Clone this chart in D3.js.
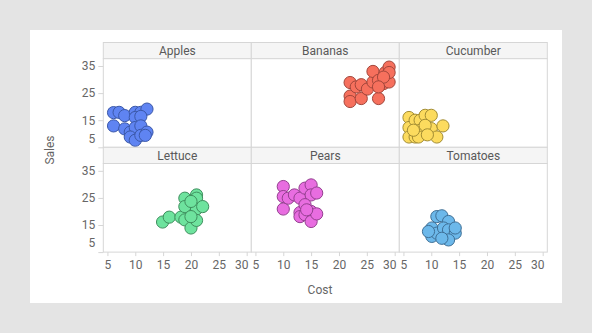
<!DOCTYPE html>
<html>
<head>
<meta charset="utf-8">
<script src="https://cdn.jsdelivr.net/npm/d3@7"></script>
<style>
  html, body { margin: 0; padding: 0; background: #e4e4e4; }
  svg { display: block; font-family: Roboto, "Noto Sans", sans-serif; }
</style>
</head>
<body>
<svg id="chart" width="592" height="333"></svg>
<script>
// Product panels, laid out in two rows of three
const categories = ["Apples", "Bananas", "Cucumber", "Lettuce", "Pears", "Tomatoes"];

// [cost, sales] pairs for each product
const apples = [[6.1,17.8],[7.1,17.9],[8.1,16.7],[10.0,17.9],[11.0,17.9],[12.1,19.1],[10.0,16.0],[11.0,16.4],
  [6.1,12.9],[8.1,11.8],[9.1,10.6],[10.0,12.3],[11.0,12.9],[9.1,8.8],[10.0,7.6],[11.0,9.4],[12.1,10.6],[11.8,9.4]];
const bananas = [[22.0,28.9],[22.0,23.9],[22.0,21.9],[24.0,23.0],[23.1,27.3],[24.0,28.1],[25.1,26.5],[26.1,29.1],
  [27.1,23.0],[26.1,33.0],[27.1,29.7],[28.0,28.5],[29.0,29.1],[28.3,32.6],[29.0,34.6],[29.0,32.6],[28.0,30.9],[27.1,27.3]];
const cucumber = [[6.0,16.0],[6.0,12.3],[6.0,8.8],[7.1,15.0],[8.0,15.0],[8.9,16.8],[10.0,16.8],[10.0,11.9],
  [11.0,8.8],[12.1,12.9],[7.1,8.8],[8.0,11.3],[7.7,8.8],[8.9,13.1],[6.8,11.3],[9.3,9.6]];
const lettuce = [[14.9,16.1],[16.1,17.9],[18.2,17.9],[18.9,24.9],[18.9,21.8],[18.9,16.9],[20.0,13.9],[21.0,26.1],
  [21.0,24.9],[21.0,20.9],[21.0,16.7],[22.1,21.8],[20.0,23.7],[20.0,18.1]];
const pears = [[10.0,29.2],[10.0,25.5],[10.0,20.9],[10.9,24.9],[12.0,26.1],[13.0,24.9],[13.9,28.6],[15.0,29.8],
  [15.0,26.1],[16.0,26.8],[13.0,19.6],[13.0,18.1],[13.9,22.5],[13.9,18.8],[15.0,20.0],[15.0,16.3],[16.0,19.1],[14.2,20.6]];
const tomatoes = [[11.0,18.1],[11.9,18.4],[13.1,16.3],[10.1,13.9],[10.1,10.8],[11.0,12.0],[12.2,13.9],[13.1,13.2],
  [14.3,12.0],[13.1,9.5],[11.9,10.1],[9.5,12.6],[14.3,13.9]];
const seriesValues = [apples, bananas, cucumber, lettuce, pears, tomatoes];

const xTicks = [5, 10, 15, 20, 25, 30];
const yTicks = [5, 15, 25, 35];

const fills   = ["#5f84f2", "#f6705d", "#fcdb5e", "#6ee39e", "#e86de0", "#6cb8ea"];
const strokes = ["#3b58a8", "#a2463b", "#a38d33", "#3f8f5e", "#944090", "#3e6f96"];

const svg = d3.select("#chart");

// card behind the chart
svg.append("rect").attr("x", 30).attr("y", 30).attr("width", 532).attr("height", 273).attr("fill", "#ffffff");

const gridLeft = 103.3, colW = 148, gridTop = 42.5, headH = 16.2, plotH = 88.6;
const nCols = 3;

const x = d3.scaleLinear().domain([4.26, 30.83]).range([0, colW]);
const y = d3.scaleLinear().domain([5, 37.7]).range([plotH, 0]);

const gridColor = "#d6d6d6";
const textColor = "#666666";

categories.forEach((name, i) => {
  const col = i % nCols, row = Math.floor(i / nCols);
  const px = gridLeft + col * colW;
  const py = gridTop + row * (headH + plotH);
  const g = svg.append("g").attr("transform", `translate(${px},${py})`);

  // header strip
  g.append("rect").attr("x", 0).attr("y", 0).attr("width", colW).attr("height", headH)
    .attr("fill", "#f5f5f5").attr("stroke", gridColor).attr("stroke-width", 1);
  g.append("text").attr("x", colW / 2).attr("y", headH / 2).attr("dy", "0.35em")
    .attr("text-anchor", "middle").attr("font-size", 12).attr("fill", "#595959").text(name);

  const plot = g.append("g").attr("transform", `translate(0,${headH})`);
  plot.append("rect").attr("width", colW).attr("height", plotH)
    .attr("fill", "#ffffff").attr("stroke", gridColor).attr("stroke-width", 1);

  // left axis on first column
  if (col === 0) {
    const ya = plot.append("g").call(d3.axisLeft(y).tickValues(yTicks).tickSize(5).tickPadding(3));
    ya.select(".domain").remove();
    ya.selectAll("line").attr("stroke", gridColor);
    ya.selectAll("text").attr("fill", textColor).attr("font-size", 12)
      .attr("font-family", "Roboto, 'Noto Sans', sans-serif")
      .attr("y", d => Math.min(0, plotH - 9 - y(d)));
  }

  // bottom axis on second row
  if (row === 1) {
    const xa = plot.append("g").attr("transform", `translate(0,${plotH})`)
      .call(d3.axisBottom(x).tickValues(xTicks).tickSize(4).tickPadding(4));
    xa.select(".domain").remove();
    xa.selectAll("line").attr("stroke", gridColor);
    xa.selectAll("text").attr("fill", textColor).attr("font-size", 12)
      .attr("font-family", "Roboto, 'Noto Sans', sans-serif")
      .attr("x", d => Math.min(0, colW - 10 - x(d)));
  }

  // points
  const clip = "clip" + i;
  plot.append("clipPath").attr("id", clip).append("rect").attr("width", colW).attr("height", plotH);
  plot.append("g").attr("clip-path", `url(#${clip})`)
    .selectAll("circle").data(seriesValues[i]).join("circle")
    .attr("cx", d => x(d[0])).attr("cy", d => y(d[1])).attr("r", 6.1)
    .attr("fill", fills[i]).attr("stroke", strokes[i]).attr("stroke-width", 1);
});

// axis titles
svg.append("text").attr("x", 320).attr("y", 290).attr("dy", "0.35em").attr("text-anchor", "middle")
  .attr("font-size", 12).attr("fill", textColor).text("Cost");
svg.append("text").attr("transform", "translate(50,150) rotate(-90)").attr("dy", "0.35em")
  .attr("text-anchor", "middle").attr("font-size", 12).attr("fill", textColor).text("Sales");
</script>
</body>
</html>
